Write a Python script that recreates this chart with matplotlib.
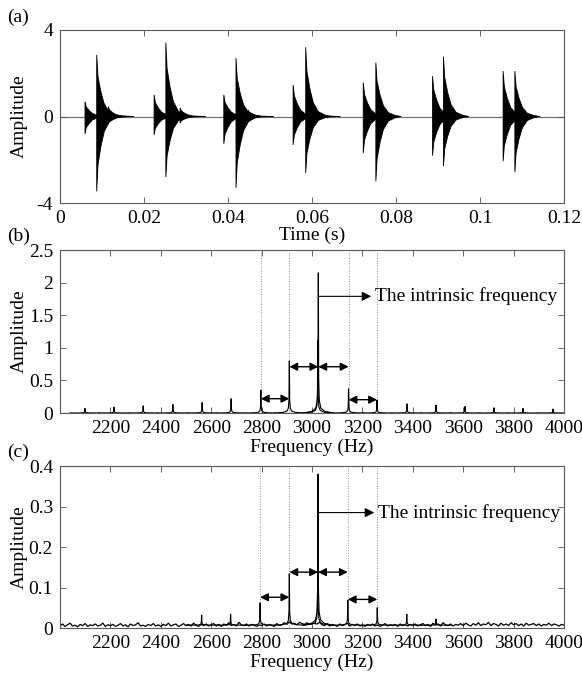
import numpy as np
import matplotlib
matplotlib.use("Agg")
import matplotlib.pyplot as plt

plt.rcParams["font.family"] = ["Liberation Serif", "DejaVu Serif"]
plt.rcParams["font.size"] = 14

# (a) impulse train: onset time (s), positive peak, negative peak
impulse_time = [0.00595, 0.00874, 0.0106, 0.0115,
                0.0224, 0.0252, 0.0286,
                0.0390, 0.0419, 0.0448,
                0.0555, 0.0585, 0.0607,
                0.0722, 0.0752,
                0.0887, 0.0913,
                0.1055, 0.1083]
impulse_pos = [0.69, 2.85, 0.59, 0.46,
               1.00, 3.41, 0.40,
               1.00, 2.70, 0.30,
               1.46, 3.20, 0.40,
               1.57, 2.49,
               1.87, 2.77,
               2.10, 2.10]
impulse_neg = [0.80, 3.46, 0.46, 0.35,
               0.85, 2.80, 0.30,
               1.26, 3.30, 0.25,
               1.31, 2.61, 0.30,
               1.69, 3.00,
               1.81, 2.30,
               2.07, 2.58]
# decay envelope (seconds after onset, fraction of peak)
decay_offset = [0, 0.0003, 0.001, 0.0018, 0.003, 0.0046, 0.006]
decay_rel = [1.0, 0.65, 0.40, 0.20, 0.07, 0.02, 0.0]

# (b) spectral lines: frequency (Hz), amplitude
freq_b = [2099, 2214, 2330, 2448, 2564, 2679, 2797, 2910, 3025, 3023,
          3145, 3258, 3377, 3492, 3607, 3722, 3837, 3956]
amp_b = [0.07, 0.09, 0.11, 0.13, 0.16, 0.22, 0.35, 0.80, 2.15, 1.12,
         0.37, 0.20, 0.14, 0.12, 0.10, 0.08, 0.07, 0.06]

# (c) spectral lines and noise floor (10 Hz steps)
freq_c = [2562, 2677, 2794, 2910, 3024, 3023, 3142, 3259, 3376, 3492]
amp_c = [0.032, 0.034, 0.062, 0.134, 0.380, 0.195, 0.069, 0.050, 0.034, 0.022]
noise_freq = list(range(2000, 4001, 10))
noise_c = [
    0.005, 0.010, 0.004, 0.008, 0.012, 0.005, 0.007, 0.003, 0.009, 0.006,
    0.011, 0.004, 0.008, 0.006, 0.010, 0.005, 0.007, 0.012, 0.004, 0.008,
    0.006, 0.009, 0.004, 0.007, 0.011, 0.005, 0.008, 0.003, 0.010, 0.006,
    0.008, 0.013, 0.005, 0.007, 0.004, 0.009, 0.006, 0.011, 0.005, 0.008,
    0.004, 0.009, 0.006, 0.012, 0.005, 0.008, 0.010, 0.004, 0.007, 0.011,
    0.006, 0.009, 0.005, 0.012, 0.007, 0.004, 0.009, 0.006, 0.010, 0.005,
    0.008, 0.011, 0.005, 0.009, 0.004, 0.010, 0.007, 0.013, 0.006, 0.009,
    0.005, 0.014, 0.008, 0.006, 0.010, 0.005, 0.009, 0.007, 0.004, 0.008,
    0.006, 0.010, 0.005, 0.009, 0.007, 0.004, 0.011, 0.006, 0.008, 0.013,
    0.009, 0.015, 0.010, 0.012, 0.008, 0.014, 0.011, 0.009, 0.013, 0.010,
    0.012, 0.011, 0.010, 0.014, 0.008, 0.006, 0.011, 0.005, 0.009, 0.007,
    0.004, 0.010, 0.006, 0.008, 0.012, 0.005, 0.009, 0.006, 0.010, 0.005,
    0.007, 0.004, 0.009, 0.006, 0.010, 0.005, 0.008, 0.004, 0.007, 0.011,
    0.005, 0.008, 0.006, 0.009, 0.004, 0.010, 0.006, 0.008, 0.005, 0.009,
    0.006, 0.010, 0.005, 0.008, 0.011, 0.006, 0.009, 0.004, 0.012, 0.007,
    0.010, 0.005, 0.013, 0.008, 0.006, 0.010, 0.005, 0.009, 0.007, 0.011,
    0.006, 0.012, 0.008, 0.005, 0.011, 0.007, 0.013, 0.006, 0.010, 0.008,
    0.014, 0.006, 0.011, 0.009, 0.005, 0.012, 0.007, 0.010, 0.006, 0.013,
    0.008, 0.011, 0.006, 0.010, 0.005, 0.012, 0.007, 0.009, 0.011, 0.006,
    0.010, 0.005, 0.009, 0.007, 0.012, 0.006, 0.010, 0.008, 0.005, 0.009,
    0.007]

# line shape of a spectral peak (Hz from centre, fraction of peak)
skirt_hz = [-60, -25, -10, -4, -1.5, 0, 1.5, 4, 10, 25, 60]
skirt_rel = [0, 0.012, 0.035, 0.09, 0.25, 1, 0.25, 0.09, 0.035, 0.012, 0]

# sidebands marked with dotted lines / arrows
marks_b = [2797, 2910, 3025, 3145, 3258]
marks_c = [2794, 2910, 3024, 3142, 3259]


def style_axes(ax):
    ax.tick_params(direction="in", top=True, right=True, length=4,
                   width=0.6, color="0.3", pad=5)
    for spine in ax.spines.values():
        spine.set_linewidth(0.8)
        spine.set_color("0.35")
    ax.yaxis.set_label_coords(-0.063, 0.5)


def draw_spectrum(ax, freqs, amps, base=0.0):
    off = np.array(skirt_hz)
    rel = np.array(skirt_rel)
    for f, a in zip(freqs, amps):
        ax.plot(f + off, base + (a - base) * rel, color="k", lw=0.8, zorder=3)


def draw_marks(ax, marks, y_low, y_mid, y_arrow, x_text, ytop):
    for x in [marks[0], marks[1], marks[3], marks[4]]:
        ax.plot([x, x], [0, ytop], color="0.55", ls=":", lw=0.7, zorder=1)
    dbl = dict(arrowstyle="<|-|>", color="k", lw=1.0, mutation_scale=12,
               shrinkA=0, shrinkB=0)
    ax.annotate("", xy=(marks[1], y_low), xytext=(marks[0], y_low), arrowprops=dbl)
    ax.annotate("", xy=(marks[2], y_mid), xytext=(marks[1], y_mid), arrowprops=dbl)
    ax.annotate("", xy=(marks[3], y_mid), xytext=(marks[2], y_mid), arrowprops=dbl)
    ax.annotate("", xy=(marks[4], y_low * 0.93), xytext=(marks[3], y_low * 0.93), arrowprops=dbl)
    one = dict(arrowstyle="-|>", color="k", lw=0.8, mutation_scale=14,
               shrinkA=0, shrinkB=0)
    ax.annotate("", xy=(x_text - 15, y_arrow), xytext=(marks[2], y_arrow), arrowprops=one)
    ax.text(x_text, y_arrow, "The intrinsic frequency", ha="left", va="center", fontsize=14)


fig = plt.figure(figsize=(5.82, 6.74), dpi=100)

# (a) time waveform
ax1 = fig.add_axes([0.1031, 0.6988, 0.866, 0.2567])
ax1.axhline(0, color="0.45", lw=0.9, zorder=1)
off = np.array(decay_offset)
rel = np.array(decay_rel)
for t0, p, n in zip(impulse_time, impulse_pos, impulse_neg):
    ax1.fill(np.r_[t0, t0 + off], np.r_[0, p * rel], color="k", lw=0.6, zorder=2)
    ax1.fill(np.r_[t0, t0 + off], np.r_[0, -n * rel], color="k", lw=0.6, zorder=2)
ax1.set_xlim(0, 0.12)
ax1.set_ylim(-4, 4)
ax1.set_xticks([0, 0.02, 0.04, 0.06, 0.08, 0.1, 0.12])
ax1.set_xticklabels(["0", "0.02", "0.04", "0.06", "0.08", "0.1", "0.12"])
ax1.set_yticks([-4, 0, 4])
ax1.set_yticklabels(["-4", "0", "4"])
ax1.set_xlabel("Time (s)", labelpad=0)
ax1.set_ylabel("Amplitude")
style_axes(ax1)

# (b) envelope spectrum
ax2 = fig.add_axes([0.1031, 0.3872, 0.866, 0.2418])
ax2.plot([2000, 4000], [0, 0], color="k", lw=0.8)
draw_spectrum(ax2, freq_b, amp_b)
draw_marks(ax2, marks_b, 0.22, 0.71, 1.79, 3250, 2.5)
ax2.set_xlim(2000, 4000)
ax2.set_ylim(0, 2.5)
ax2.set_xticks(range(2200, 4001, 200))
ax2.set_yticks([0, 0.5, 1, 1.5, 2, 2.5])
ax2.set_yticklabels(["0", "0.5", "1", "1.5", "2", "2.5"])
ax2.set_xlabel("Frequency (Hz)", labelpad=1)
ax2.set_ylabel("Amplitude")
style_axes(ax2)

# (c) spectrum with noise
ax3 = fig.add_axes([0.1031, 0.0682, 0.866, 0.2404])
ax3.plot(noise_freq, noise_c, color="k", lw=0.9)
draw_spectrum(ax3, freq_c, amp_c, base=0.007)
draw_marks(ax3, marks_c, 0.076, 0.138, 0.285, 3262, 0.4)
ax3.set_xlim(2000, 4000)
ax3.set_ylim(0, 0.4)
ax3.set_xticks(range(2200, 4001, 200))
ax3.set_yticks([0, 0.1, 0.2, 0.3, 0.4])
ax3.set_yticklabels(["0", "0.1", "0.2", "0.3", "0.4"])
ax3.set_xlabel("Frequency (Hz)", labelpad=1)
ax3.set_ylabel("Amplitude")
style_axes(ax3)

fig.text(0.012, 0.987, "(a)", ha="left", va="top", fontsize=14)
fig.text(0.012, 0.662, "(b)", ha="left", va="top", fontsize=14)
fig.text(0.012, 0.342, "(c)", ha="left", va="top", fontsize=14)

fig.savefig("out.png", dpi=100)
